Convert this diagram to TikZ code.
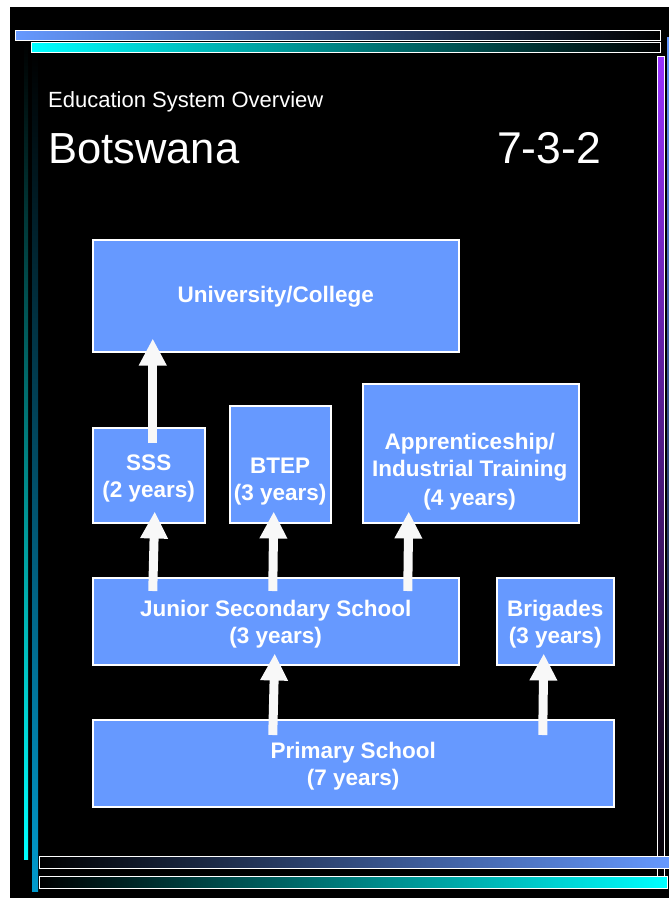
\documentclass[tikz,border=0pt]{standalone}
\usepackage{fontspec}
\setmainfont{Liberation Sans}
\usetikzlibrary{arrows.meta}
\definecolor{boxblue}{HTML}{6699FF}
\definecolor{barcyan}{HTML}{00FFFF}
\definecolor{barteal}{HTML}{0099CC}
\definecolor{barpurple}{HTML}{9933FF}
\definecolor{arrowwhite}{HTML}{F8F8F8}
\begin{document}
\begin{tikzpicture}[x=1pt,y=-1pt,
  stagebox/.style={draw=white, line width=1.5pt, fill=boxblue, anchor=north west,
    inner sep=0pt},
  stagetext/.style={text=white, align=center, inner sep=0pt,
    font=\bfseries\fontsize{22.5}{27}\selectfont},
  flow/.style={draw=arrowwhite, line width=9pt, -{Triangle[width=26pt,length=27pt]}},
  framebar/.style={draw=white, line width=1pt},
  heading/.style={text=white, anchor=base west, inner sep=0pt}]
\useasboundingbox (0,0) rectangle (669,898);
\fill[white] (0,0) rectangle (669,898);
\fill[black] (10,7) rectangle (669,898);

% decorative frame: vertical bars
\shade[top color=black, bottom color=barcyan] (24,42) rectangle (28,859);
\shade[top color=black, bottom color=barteal] (32,52) rectangle (38,891);
\shade[top color=boxblue, bottom color=black] (667,37) rectangle (671,860);
\shade[framebar, top color=barpurple, bottom color=black] (657,56) rectangle (664,880);

% decorative frame: horizontal bars
\shade[framebar, left color=boxblue, right color=black] (15,30) rectangle (660,40);
\shade[framebar, left color=barcyan, right color=black] (31,42) rectangle (660,52);
\shade[framebar, left color=black, right color=boxblue] (39,856) rectangle (672,868);
\shade[framebar, left color=black, right color=barcyan] (39,876) rectangle (667,888);

% heading
\node[heading, font=\fontsize{22}{26}\selectfont] (subtitle) at (48,107) {Education System Overview};
\node[heading, font=\fontsize{43.5}{50}\selectfont] (country) at (48,163) {Botswana};
\node[heading, font=\fontsize{44.5}{50}\selectfont] (pattern) at (497,163) {7-3-2};

% stages
\node[stagebox, minimum width=366pt, minimum height=112pt] (uni) at (92,239) {};
\node[stagebox, minimum width=112pt, minimum height=95pt] (sss) at (92,427) {};
\node[stagebox, minimum width=101pt, minimum height=117pt] (btep) at (229,405) {};
\node[stagebox, minimum width=216pt, minimum height=139pt] (app) at (362,383) {};
\node[stagebox, minimum width=366pt, minimum height=87pt] (jss) at (92,577) {};
\node[stagebox, minimum width=117pt, minimum height=87pt] (brig) at (496,577) {};
\node[stagebox, minimum width=521pt, minimum height=87pt] (prim) at (92,719) {};

% stage labels
\node[stagetext] (unilabel) at ([yshift=-1pt]uni.center) {University/College};
\node[stagetext] (ssslabel) at ([yshift=-3pt]sss.center) {SSS\\(2 years)};
\node[stagetext] (bteplabel) at ([yshift=-17pt]btep.center) {BTEP\\(3 years)};
\node[stagetext] (applabel) at ([xshift=-1pt,yshift=-18pt]app.center) {Apprenticeship/\\Industrial Training\\[2pt](4 years)};
\node[stagetext] (jsslabel) at ([yshift=-3pt]jss.center) {Junior Secondary School\\(3 years)};
\node[stagetext] (briglabel) at ([yshift=-3pt]brig.center) {Brigades\\(3 years)};
\node[stagetext] (primlabel) at ([yshift=-3pt]prim.center) {Primary School\\(7 years)};

% progression arrows
\draw[flow] ([xshift=4pt,yshift=-16pt]sss.north) -- ([xshift=-123pt,yshift=14pt]uni.south);
\draw[flow] ([xshift=-123pt,yshift=-14pt]jss.north) -- ([xshift=6pt,yshift=12pt]sss.south);
\draw[flow] ([xshift=-3pt,yshift=-14pt]jss.north) -- ([xshift=-6.5pt,yshift=12pt]btep.south);
\draw[flow] ([xshift=132pt,yshift=-14pt]jss.north) -- ([xshift=-62pt,yshift=12pt]app.south);
\draw[flow] ([xshift=-80.5pt,yshift=-16pt]prim.north) -- ([xshift=-1pt,yshift=12pt]jss.south);
\draw[flow] ([xshift=189.5pt,yshift=-16pt]prim.north) -- ([xshift=-11.5pt,yshift=12pt]brig.south);
\end{tikzpicture}
\end{document}
